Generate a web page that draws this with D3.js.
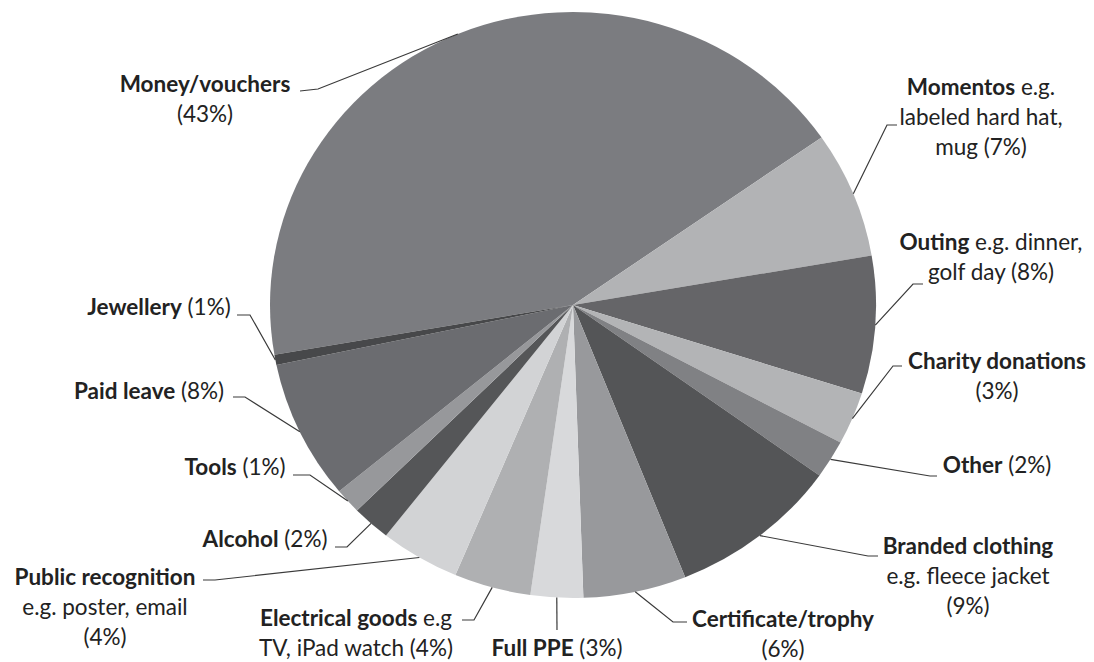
<!DOCTYPE html>
<html>
<head>
<meta charset="utf-8">
<script src="https://d3js.org/d3.v7.min.js"></script>
<style>
  body { margin: 0; background: #fff; }
  svg { display: block; }
  .lbl { font-family: Lato, "Open Sans", sans-serif; font-size: 22.5px; fill: #222; }
  .lbl .b { font-weight: bold; }
</style>
</head>
<body>
<svg id="chart" width="1094" height="662"></svg>
<script>
// Slices, clockwise
const categories = ["Money/vouchers", "Momentos", "Outing", "Charity donations", "Other",
  "Branded clothing", "Certificate/trophy", "Full PPE", "Electrical goods",
  "Public recognition", "Alcohol", "Tools", "Paid leave", "Jewellery"];
const shares = [43.1, 7.0, 7.6, 2.9, 2.1, 9.1, 5.5, 2.8, 4.1, 4.25, 2.05, 1.4, 7.7, 0.56];
const shownPct = [43, 7, 8, 3, 2, 9, 6, 3, 4, 4, 2, 1, 8, 1];

const colors = ["#7b7c80", "#b2b3b5", "#656568", "#b3b4b6", "#808184", "#545557", "#98999c",
  "#d8d9db", "#afb0b2", "#d2d3d5", "#555658", "#97989b", "#6b6c70", "#47484a"];

// label layout: lines are [bold part, normal part]; {p} is the percent
const labelLayout = [
  { x: 205, y: 92, lines: [["Money/vouchers", ""], ["", "({p}%)"]], elbow: [318, 89], end: [300, 91] },
  { x: 981, y: 95, lines: [["Momentos", " e.g."], ["", "labeled hard hat,"], ["", "mug ({p}%)"]], elbow: [887, 125], end: [897, 125] },
  { x: 991, y: 250, lines: [["Outing", " e.g. dinner,"], ["", "golf day ({p}%)"]], elbow: [913, 284], end: [923, 284] },
  { x: 997, y: 369, lines: [["Charity donations", ""], ["", "({p}%)"]], elbow: [893, 366], end: [902, 366] },
  { x: 997, y: 473, lines: [["Other", " ({p}%)"]], elbow: [930, 476], end: [937, 476] },
  { x: 968, y: 554, lines: [["Branded clothing", ""], ["", "e.g. fleece jacket"], ["", "({p}%)"]], elbow: [868, 556], end: [878, 556] },
  { x: 783, y: 627, lines: [["Certificate/trophy", ""], ["", "({p}%)"]], elbow: [673, 622], end: [687, 622] },
  { x: 557, y: 656, lines: [["Full PPE", " ({p}%)"]], elbow: [557, 630], end: [557, 630] },
  { x: 356, y: 626, lines: [["Electrical goods", " e.g"], ["", "TV, iPad watch ({p}%)"]], elbow: [474, 620], end: [462, 620] },
  { x: 105, y: 585, lines: [["Public recognition", ""], ["", "e.g. poster, email"], ["", "({p}%)"]], elbow: [215, 580], end: [203, 580] },
  { x: 265, y: 547, lines: [["Alcohol", " ({p}%)"]], elbow: [347, 547], end: [335, 547] },
  { x: 235, y: 475, lines: [["Tools", " ({p}%)"]], elbow: [310, 475], end: [293, 475] },
  { x: 149, y: 399, lines: [["Paid leave", " ({p}%)"]], elbow: [245, 397], end: [233, 397] },
  { x: 159, y: 315, lines: [["Jewellery", " ({p}%)"]], elbow: [250, 315], end: [237, 315] }
];

const svg = d3.select("#chart");
const cx = 573, cy = 305, rx = 303, ry = 293;
const squash = ry / rx;

const pie = d3.pie().sort(null).value(d => d)
  .startAngle(-99.8 * Math.PI / 180)
  .endAngle(260.2 * Math.PI / 180);
const arcs = pie(shares);
const arc = d3.arc().innerRadius(0).outerRadius(rx);

const g = svg.append("g").attr("transform", `translate(${cx},${cy}) scale(1,${squash})`);
g.selectAll("path.slice")
  .data(arcs)
  .enter()
  .append("path")
  .attr("class", "slice")
  .attr("d", arc)
  .attr("fill", (d, i) => colors[i]);

// leader lines from the middle of each slice's rim
function rimPoint(d) {
  const a = (d.startAngle + d.endAngle) / 2;
  return [cx + rx * Math.sin(a), cy - ry * Math.cos(a)];
}

svg.selectAll("polyline.leader")
  .data(arcs)
  .enter()
  .append("polyline")
  .attr("class", "leader")
  .attr("points", (d, i) => [rimPoint(d), labelLayout[i].elbow, labelLayout[i].end].map(p => p.join(",")).join(" "))
  .attr("fill", "none")
  .attr("stroke", "#3a3a3a")
  .attr("stroke-width", 1.2);

// labels
const lineH = 30;
labelLayout.forEach((L, i) => {
  const t = svg.append("text")
    .attr("class", "lbl")
    .attr("text-anchor", "middle")
    .attr("x", L.x)
    .attr("y", L.y);
  L.lines.forEach((ln, j) => {
    const first = t.append("tspan").attr("x", L.x).attr("dy", j === 0 ? 0 : lineH);
    if (ln[0]) first.attr("class", "b").text(ln[0]);
    const rest = ln[1].replace("{p}", shownPct[i]);
    if (rest) {
      if (ln[0]) t.append("tspan").text(rest);
      else first.text(rest);
    }
  });
});
</script>
</body>
</html>
